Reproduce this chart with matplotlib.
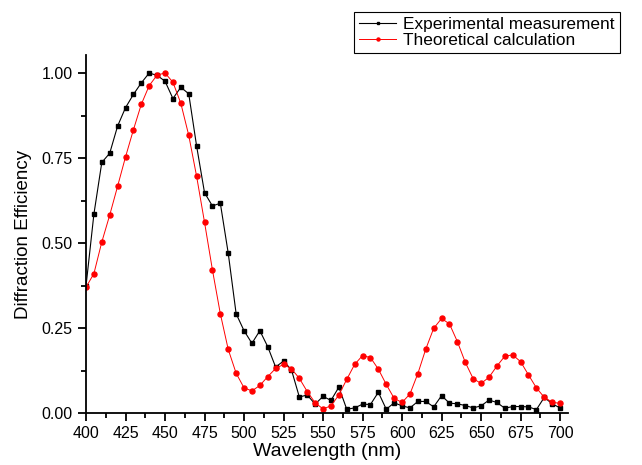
import numpy as np
import matplotlib
matplotlib.use("Agg")
import matplotlib.pyplot as plt
from matplotlib.ticker import MultipleLocator

plt.rcParams['font.family'] = ['Liberation Sans', 'DejaVu Sans']

# wavelength grid, 5 nm steps
wavelength = list(range(400, 705, 5))

experimental = [
    0.373, 0.585, 0.737, 0.764, 0.844, 0.898, 0.937, 0.971, 1.000, 0.993,
    0.976, 0.925, 0.958, 0.939, 0.785, 0.648, 0.609, 0.617, 0.470, 0.292,
    0.242, 0.205, 0.242, 0.195, 0.135, 0.153, 0.127, 0.047, 0.053, 0.026,
    0.049, 0.037, 0.076, 0.011, 0.015, 0.026, 0.025, 0.061, 0.011, 0.030,
    0.021, 0.015, 0.034, 0.034, 0.018, 0.051, 0.029, 0.027, 0.022, 0.015,
    0.021, 0.038, 0.031, 0.014, 0.019, 0.019, 0.018, 0.010, 0.046, 0.027,
    0.015,
]

theoretical = [
    0.370, 0.410, 0.503, 0.582, 0.667, 0.753, 0.833, 0.908, 0.963, 0.994,
    1.000, 0.973, 0.911, 0.817, 0.696, 0.561, 0.421, 0.292, 0.187, 0.117,
    0.074, 0.065, 0.081, 0.107, 0.131, 0.143, 0.130, 0.102, 0.063, 0.030,
    0.012, 0.021, 0.053, 0.099, 0.143, 0.169, 0.163, 0.129, 0.084, 0.043,
    0.031, 0.056, 0.116, 0.188, 0.249, 0.278, 0.262, 0.210, 0.149, 0.101,
    0.087, 0.105, 0.138, 0.167, 0.171, 0.151, 0.112, 0.074, 0.046, 0.032,
    0.028,
]

fig = plt.figure(figsize=(6.42, 4.65), dpi=100)
ax = fig.add_axes([86 / 642, 1 - 413 / 465, 482 / 642, 358 / 465])

ax.plot(wavelength, experimental, color='black', lw=0.8, marker='s', ms=3.3,
        label='Experimental measurement')
ax.plot(wavelength, theoretical, color='#ff0000', lw=0.7, marker='o', ms=3.6,
        label='Theoretical calculation')

ax.set_xlim(400, 705)
ax.set_ylim(0, 1.053)
ax.xaxis.set_major_locator(MultipleLocator(25))
ax.xaxis.set_minor_locator(MultipleLocator(12.5))
ax.yaxis.set_major_locator(MultipleLocator(0.25))
ax.yaxis.set_minor_locator(MultipleLocator(0.125))
ax.yaxis.set_major_formatter(matplotlib.ticker.FormatStrFormatter('%.2f'))

for s in ['top', 'right']:
    ax.spines[s].set_visible(False)
for s in ['left', 'bottom']:
    ax.spines[s].set_linewidth(1.3)
ax.tick_params(which='major', length=6, width=1.3, labelsize=11.5, direction='out')
ax.tick_params(which='minor', length=3.5, width=1.3, direction='out')

ax.set_xlabel('Wavelength (nm)', fontsize=14, labelpad=1)
ax.set_ylabel('Diffraction Efficiency', fontsize=13.5, labelpad=7)

leg = ax.legend(loc='upper right', bbox_to_anchor=(620 / 642, 1 - 12 / 465),
                bbox_transform=fig.transFigure, fontsize=12.4, fancybox=False,
                edgecolor='black', framealpha=1, borderaxespad=0,
                handlelength=2.15, borderpad=0.3, labelspacing=0.05,
                handletextpad=0.4, markerscale=0.6)
leg.get_frame().set_linewidth(0.8)

fig.savefig('out.png', dpi=100)
